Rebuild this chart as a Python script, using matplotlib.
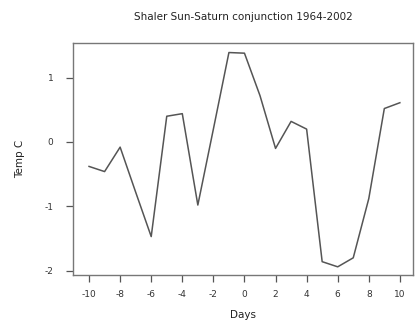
import matplotlib
matplotlib.use("Agg")
import matplotlib.pyplot as plt

plt.rcParams["axes.unicode_minus"] = False

# daily mean temperature anomaly around conjunction day
days = list(range(-10, 11))
temp_c = [-0.38, -0.46, -0.08, -0.78, -1.47, 0.40, 0.44, -0.98, 0.20, 1.39, 1.38,
          0.72, -0.10, 0.32, 0.20, -1.86, -1.94, -1.80, -0.88, 0.52, 0.61]
x_ticks = list(range(-10, 11, 2))
y_ticks = [-2, -1, 0, 1]

fig = plt.figure(figsize=(4.15, 3.33), dpi=100)
ax = fig.add_axes([0.176, 0.174, 0.819, 0.698])

ax.plot(days, temp_c, color="#555555", linewidth=1.1)

ax.set_xlim(-11.03, 10.84)
ax.set_ylim(-2.068, 1.544)
ax.set_xticks(x_ticks)
ax.set_yticks(y_ticks)

for side in ["left", "right", "top", "bottom"]:
    ax.spines[side].set_color("#777777")
    ax.spines[side].set_linewidth(1.0)

ax.tick_params(direction="out", length=5, width=0.9, color="#555555",
               labelsize=6.5, labelcolor="#333333")
ax.tick_params(axis="x", pad=6)
ax.tick_params(axis="y", pad=9)

ax.set_title("Shaler Sun-Saturn conjunction 1964-2002", fontsize=7.5,
             color="#222222", pad=16)
ax.set_xlabel("Days", fontsize=7.5, color="#222222", labelpad=8)
ax.set_ylabel("Temp C", fontsize=7.5, color="#222222", labelpad=14)

fig.savefig("out.png", dpi=100)
